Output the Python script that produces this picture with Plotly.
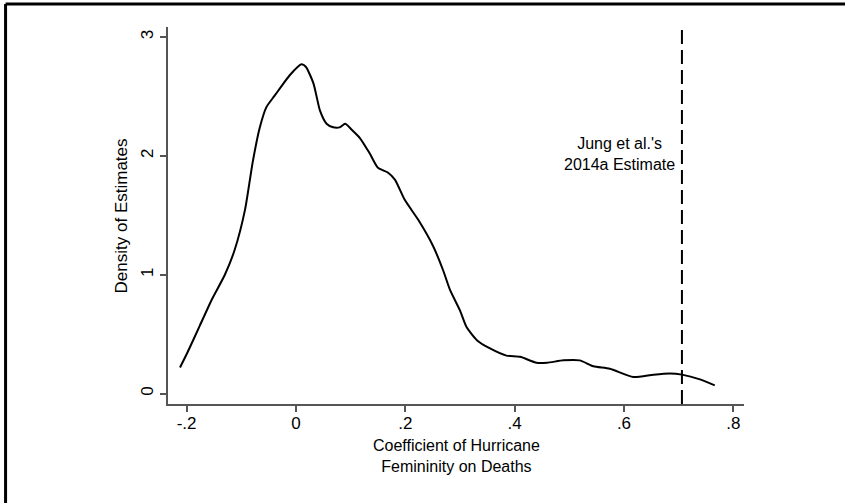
import plotly.graph_objects as go

# Density curve (coefficient, density)
coef = [-0.212, -0.198, -0.176, -0.154, -0.130, -0.112, -0.093, -0.079, -0.066, -0.054,
        -0.040, -0.029, -0.011, 0.010, 0.018, 0.032, 0.044, 0.056, 0.068, 0.080, 0.090,
        0.102, 0.117, 0.135, 0.150, 0.168, 0.181, 0.199, 0.224, 0.251, 0.269, 0.282,
        0.300, 0.312, 0.331, 0.355, 0.385, 0.410, 0.440, 0.459, 0.489, 0.519, 0.544,
        0.574, 0.617, 0.654, 0.684, 0.706, 0.739, 0.766]
density = [0.22, 0.35, 0.57, 0.79, 1.00, 1.21, 1.55, 1.95, 2.24, 2.41,
           2.50, 2.57, 2.68, 2.77, 2.75, 2.61, 2.38, 2.27, 2.24, 2.24, 2.27,
           2.22, 2.15, 2.02, 1.90, 1.86, 1.80, 1.63, 1.46, 1.24, 1.04, 0.87,
           0.70, 0.56, 0.45, 0.38, 0.32, 0.31, 0.26, 0.26, 0.28, 0.28, 0.23,
           0.21, 0.14, 0.16, 0.17, 0.16, 0.12, 0.07]

jung_estimate = 0.706
label_text = "Jung et al.'s<br>2014a Estimate"
label_y = 2.02
xtitle = "Coefficient of Hurricane<br>Femininity on Deaths"
ytitle = "Density of Estimates"
x_ticks = [-0.2, 0, 0.2, 0.4, 0.6, 0.8]
x_ticklabels = ["-.2", "0", ".2", ".4", ".6", ".8"]
y_ticks = [0, 1, 2, 3]
y_ticklabels = ["0", "1", "2", "3"]

FONT = "Liberation Sans, Arial, sans-serif"
FS = 17
FS2 = 16
AXC = "#555555"

fig = go.Figure()
fig.add_trace(go.Scatter(x=coef, y=density, mode="lines",
                         line=dict(color="black", width=2, shape="spline", smoothing=0.6),
                         hoverinfo="skip", showlegend=False))

fig.add_shape(type="line", xref="x", yref="paper", x0=jung_estimate, x1=jung_estimate,
              y0=0, y1=1, line=dict(color="black", width=2, dash="14px,6px"))

fig.add_annotation(x=jung_estimate, y=label_y, xref="x", yref="y", xanchor="center",
                   yanchor="middle", align="center", xshift=-62, showarrow=False,
                   text=label_text, font=dict(family=FONT, size=FS2, color="black"))

# axis titles
fig.add_annotation(x=0.5, y=-0.138, xref="paper", yref="paper", xanchor="center",
                   yanchor="middle", align="center", showarrow=False, text=xtitle,
                   font=dict(family=FONT, size=FS2, color="black"))
fig.add_annotation(x=-0.080, y=0.5, xref="paper", yref="paper", xanchor="center",
                   yanchor="middle", textangle=-90, showarrow=False, text=ytitle,
                   font=dict(family=FONT, size=FS, color="black"))

# outer frame (only top and left edges fall inside the picture)
fig.add_shape(type="line", xref="paper", yref="paper", x0=-0.282, x1=1.18, y0=1.061, y1=1.061,
              line=dict(color="black", width=3))
fig.add_shape(type="line", xref="paper", yref="paper", x0=-0.282, x1=-0.282, y0=-0.27, y1=1.061,
              line=dict(color="black", width=3))

fig.update_layout(
    width=845, height=503,
    margin=dict(l=168, r=101, t=27, b=99),
    paper_bgcolor="white", plot_bgcolor="white",
    font=dict(family=FONT, size=FS, color="black"),
    xaxis=dict(range=[-0.234, 0.8195], tickvals=x_ticks, ticktext=x_ticklabels,
               showgrid=False, zeroline=False, showline=True, linecolor=AXC, linewidth=1.5,
               ticks="outside", ticklen=6, tickwidth=1.5, tickcolor=AXC,
               ticklabelstandoff=-3,
               tickfont=dict(family=FONT, size=FS, color="black")),
    yaxis=dict(range=[-0.087, 3.084], tickvals=y_ticks, ticktext=y_ticklabels,
               showgrid=False, zeroline=False, showline=True, linecolor=AXC, linewidth=1.5,
               ticks="outside", ticklen=6, tickwidth=1.5, tickcolor=AXC, tickangle=-90,
               tickfont=dict(family=FONT, size=FS, color="black")),
)

fig.write_html("out.html")
